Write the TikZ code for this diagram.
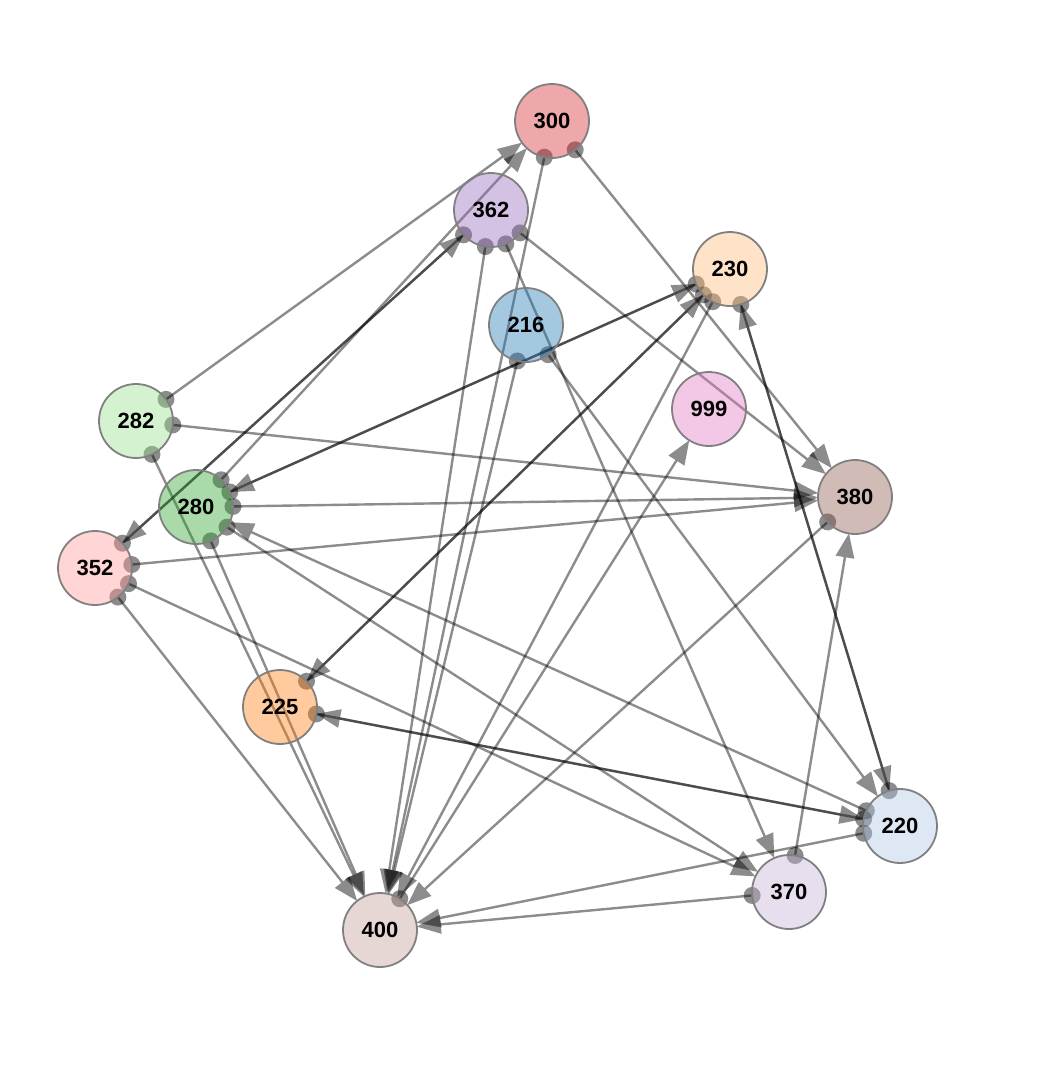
\documentclass[tikz,border=0pt]{standalone}
\usepackage{fontspec}
\setmainfont{Liberation Sans}
\usetikzlibrary{arrows.meta,calc}
\pgfdeclarelayer{background}
\pgfsetlayers{background,main}
\definecolor{c216}{HTML}{1F77B4}
\definecolor{c220}{HTML}{AEC7E8}
\definecolor{c225}{HTML}{FF7F0E}
\definecolor{c230}{HTML}{FFBB78}
\definecolor{c280}{HTML}{2CA02C}
\definecolor{c282}{HTML}{98DF8A}
\definecolor{c300}{HTML}{D62728}
\definecolor{c352}{HTML}{FF9896}
\definecolor{c362}{HTML}{9467BD}
\definecolor{c370}{HTML}{C5B0D5}
\definecolor{c380}{HTML}{8C564B}
\definecolor{c400}{HTML}{C49C94}
\definecolor{c999}{HTML}{E377C2}
\definecolor{rim}{HTML}{808080}
\begin{document}
\begin{tikzpicture}[x=1pt,y=-1pt,
  vtx/.style={circle,minimum size=74pt,inner sep=0pt,outer sep=0pt,draw=rim,line width=1.8pt,
    fill=#1,fill opacity=0.4,text opacity=1,font=\fontsize{22}{22}\selectfont\bfseries},
  link/.style={draw=black,opacity=0.45,line width=2.4pt,-{Triangle[length=24pt,width=19pt,line width=0pt]}},
  dotmark/.style={fill=black,fill opacity=0.45}
]
\useasboundingbox (0,0) rectangle (1046,1066);
\node[vtx=c300] (n300) at (552,121) {300};
\node[vtx=c362] (n362) at (491,210) {362};
\node[vtx=c230] (n230) at (730,269) {230};
\node[vtx=c216] (n216) at (526,325) {216};
\node[vtx=c999] (n999) at (709,409) {999};
\node[vtx=c282] (n282) at (136,421) {282};
\node[vtx=c380] (n380) at (855,497) {380};
\node[vtx=c280] (n280) at (196,507) {280};
\node[vtx=c352] (n352) at (95,568) {352};
\node[vtx=c225] (n225) at (280,707) {225};
\node[vtx=c220] (n220) at (900,826) {220};
\node[vtx=c370] (n370) at (789,892) {370};
\node[vtx=c400] (n400) at (380,930) {400};
\begin{pgfonlayer}{background}
\fill[white] (0,0) rectangle (1046,1066);
\foreach \a/\b in {282/300,280/300,300/400,300/380,362/352,352/362,362/400,362/370,362/380,
  230/280,280/230,230/225,225/230,230/400,230/220,220/230,216/400,216/220,282/380,282/400,
  280/380,280/370,280/400,220/280,352/380,352/370,352/400,380/400,400/999,225/220,220/225,
  220/400,370/380,370/400}{
  \draw[link] (n\a) -- (n\b);
  \fill[dotmark] ($(n\a.center)!37pt!(n\b.center)$) circle (8.5pt);
}
\end{pgfonlayer}
\end{tikzpicture}
\end{document}
